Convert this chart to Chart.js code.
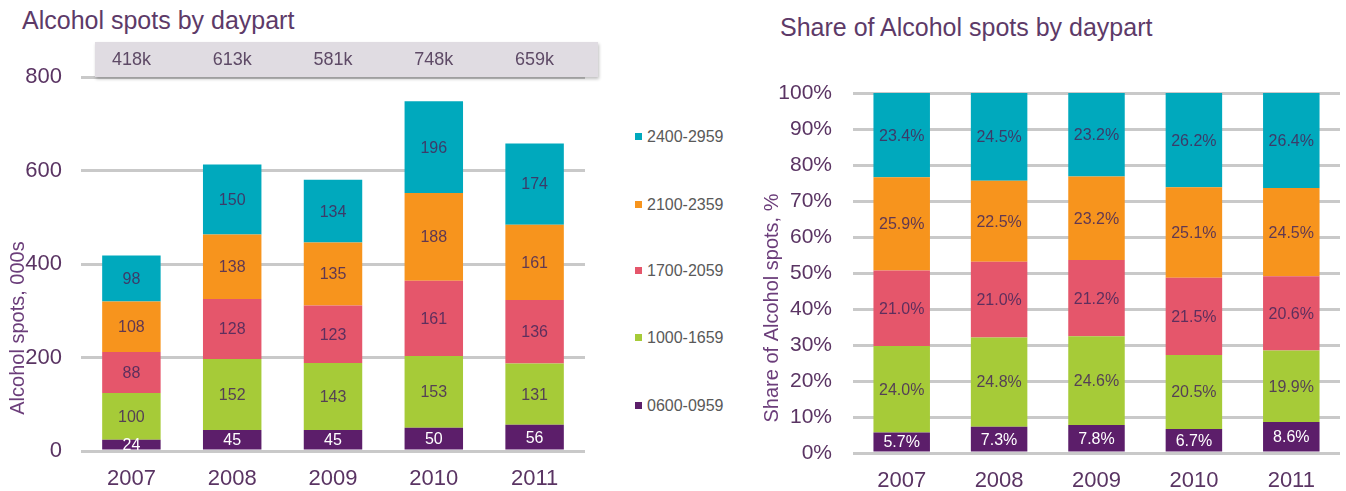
<!DOCTYPE html>
<html>
<head>
<meta charset="utf-8">
<script src="https://cdn.jsdelivr.net/npm/chart.js@4.4.0/dist/chart.umd.min.js"></script>
<style>
  body { margin: 0; background: #fff; width: 1346px; height: 491px; overflow: hidden; position: relative; font-family: "Liberation Sans", Arial, sans-serif; }
  .title { position: absolute; font-size: 25px; line-height: 25px; color: #5d3a68; white-space: nowrap; }
  #box1 { position: absolute; left: 0; top: 0; width: 620px; height: 491px; }
  #box2 { position: absolute; left: 726px; top: 0; width: 620px; height: 491px; }
  #legend { position: absolute; left: 635px; top: 0; }
  .item { position: absolute; left: 0; white-space: nowrap; font-size: 16px; line-height: 16px; color: #595959; }
  .item span { display: inline-block; width: 7px; height: 7px; margin-right: 5px; vertical-align: 2px; }
</style>
</head>
<body>
<div class="title" style="left:22px; top:8px;">Alcohol spots by daypart</div>
<div class="title" style="left:780px; top:15px;">Share of Alcohol spots by daypart</div>
<div id="box1"><canvas id="chart1"></canvas></div>
<div id="box2"><canvas id="chart2"></canvas></div>
<div id="legend"></div>
<script>
// years on the x axis
const years = ["2007", "2008", "2009", "2010", "2011"];
// dayparts, bottom to top
const dayparts = ["0600-0959", "1000-1659", "1700-2059", "2100-2359", "2400-2959"];
const colors = ["#5c1e6a", "#a6cb38", "#e5566b", "#f7941d", "#00a9bd"];

// spots, 000s
const spots_0600 = [24, 45, 45, 50, 56];
const spots_1000 = [100, 152, 143, 153, 131];
const spots_1700 = [88, 128, 123, 161, 136];
const spots_2100 = [108, 138, 135, 188, 161];
const spots_2400 = [98, 150, 134, 196, 174];
const totals = [418, 613, 581, 748, 659];

// share of spots, %
const share_0600 = [5.7, 7.3, 7.8, 6.7, 8.6];
const share_1000 = [24.0, 24.8, 24.6, 20.5, 19.9];
const share_1700 = [21.0, 21.0, 21.2, 21.5, 20.6];
const share_2100 = [25.9, 22.5, 23.2, 25.1, 24.5];
const share_2400 = [23.4, 24.5, 23.2, 26.2, 26.4];

const tickColor = "#5a3463";
const gridColor = "#c9c9c9";
const labelColor = "rgba(70, 40, 90, 0.85)";
const fontFamily = "'Liberation Sans', Arial, sans-serif";

// legend, top item is the last daypart
const legendY = [137, 205, 271, 338, 406];
const legend = document.getElementById("legend");
for (let i = 0; i < dayparts.length; i++) {
    const k = dayparts.length - 1 - i;
    const div = document.createElement("div");
    div.className = "item";
    div.style.top = (legendY[i] - 8) + "px";
    div.innerHTML = '<span style="background:' + colors[k] + '"></span>' + dayparts[k];
    legend.appendChild(div);
}

// draw the value in the middle of each segment
function segmentLabels(fmt) {
    return {
        id: "segmentLabels",
        afterDatasetsDraw(chart) {
            const ctx = chart.ctx;
            ctx.save();
            ctx.font = "16px " + fontFamily;
            ctx.textAlign = "center";
            ctx.textBaseline = "middle";
            chart.data.datasets.forEach((ds, di) => {
                const meta = chart.getDatasetMeta(di);
                meta.data.forEach((bar, i) => {
                    ctx.fillStyle = di == 0 ? "#ffffff" : labelColor;
                    ctx.fillText(fmt(ds.data[i]), bar.x, (bar.y + bar.base) / 2 + 1);
                });
            });
            ctx.restore();
        }
    };
}

// rotated y axis title at a fixed place
function sideTitle(text, x, y) {
    return {
        id: "sideTitle",
        afterDraw(chart) {
            const ctx = chart.ctx;
            ctx.save();
            ctx.translate(x, y);
            ctx.rotate(-Math.PI / 2);
            ctx.font = "20px " + fontFamily;
            ctx.fillStyle = "#6b3d7a";
            ctx.textAlign = "center";
            ctx.textBaseline = "middle";
            ctx.fillText(text, 0, 0);
            ctx.restore();
        }
    };
}

// grey band with the yearly totals
const totalsBand = {
    id: "totalsBand",
    afterDraw(chart) {
        const ctx = chart.ctx;
        ctx.save();
        ctx.shadowColor = "rgba(0,0,0,0.25)";
        ctx.shadowBlur = 3;
        ctx.shadowOffsetX = 1;
        ctx.shadowOffsetY = 2;
        ctx.fillStyle = "#e0dce2";
        ctx.fillRect(95, 42, 503, 35);
        ctx.restore();
        ctx.save();
        ctx.font = "18px " + fontFamily;
        ctx.fillStyle = "#5e4a66";
        ctx.textAlign = "center";
        ctx.textBaseline = "middle";
        const x = chart.scales.x;
        totals.forEach((t, i) => {
            ctx.fillText(t + "k", x.getPixelForValue(i), 60);
        });
        ctx.restore();
    }
};

function makeDatasets(series) {
    return series.map((d, i) => ({
        label: dayparts[i],
        data: d,
        backgroundColor: colors[i],
        borderWidth: 0,
        barPercentage: 0.58,
        categoryPercentage: 1.0,
    }));
}

const config_spots = {
    type: "bar",
    data: {
        labels: years,
        datasets: makeDatasets([spots_0600, spots_1000, spots_1700, spots_2100, spots_2400]),
    },
    options: {
        responsive: true,
        maintainAspectRatio: false,
        animation: false,
        layout: { padding: { top: 77, right: 35, bottom: 0, left: 0 } },
        plugins: {
            legend: { display: false },
            tooltip: { enabled: false },
        },
        scales: {
            x: {
                stacked: true,
                grid: { display: false },
                border: { display: false },
                ticks: { color: tickColor, font: { size: 22, family: fontFamily }, padding: 7 },
                afterFit: (s) => { s.height = 40; },
            },
            y: {
                stacked: true,
                min: 0,
                max: 800,
                grid: { color: gridColor, lineWidth: 3, drawTicks: false },
                border: { display: false },
                ticks: { stepSize: 200, color: tickColor, font: { size: 22, family: fontFamily }, padding: 19 },
                afterFit: (s) => { s.width = 81; },
            },
        },
    },
    plugins: [segmentLabels((v) => String(v)), sideTitle("Alcohol spots, 000s", 18, 328), totalsBand],
};

const config_share = {
    type: "bar",
    data: {
        labels: years,
        datasets: makeDatasets([share_0600, share_1000, share_1700, share_2100, share_2400]),
    },
    options: {
        responsive: true,
        maintainAspectRatio: false,
        animation: false,
        layout: { padding: { top: 93, right: 6, bottom: 0, left: 0 } },
        plugins: {
            legend: { display: false },
            tooltip: { enabled: false },
        },
        scales: {
            x: {
                stacked: true,
                grid: { display: false },
                border: { display: false },
                ticks: { color: tickColor, font: { size: 22, family: fontFamily }, padding: 7 },
                afterFit: (s) => { s.height = 38; },
            },
            y: {
                stacked: true,
                min: 0,
                max: 100,
                grid: { color: gridColor, lineWidth: 3, drawTicks: false },
                border: { display: false },
                ticks: {
                    stepSize: 10,
                    color: tickColor,
                    font: { size: 21, family: fontFamily },
                    padding: 21,
                    callback: (v) => v + "%",
                },
                afterFit: (s) => { s.width = 127; },
            },
        },
    },
    plugins: [segmentLabels((v) => v.toFixed(1) + "%"), sideTitle("Share of Alcohol spots, %", 46, 308)],
};

const chart_spots = new Chart(document.getElementById("chart1").getContext("2d"), config_spots);
const chart_share = new Chart(document.getElementById("chart2").getContext("2d"), config_share);
</script>
</body>
</html>
